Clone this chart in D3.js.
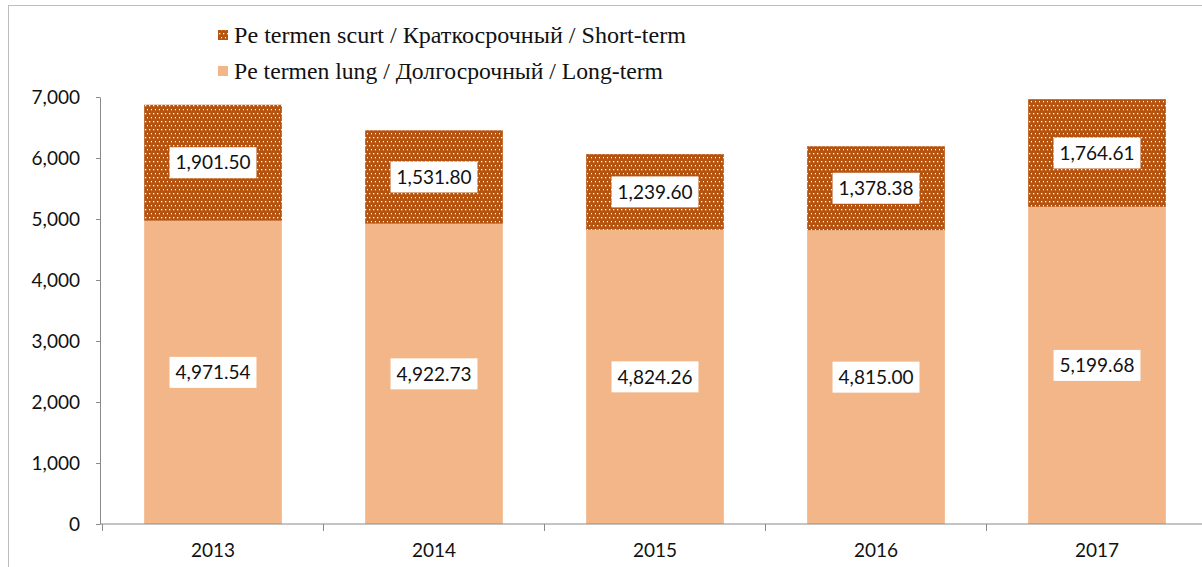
<!DOCTYPE html>
<html>
<head>
<meta charset="utf-8">
<title>Long-term / short-term</title>
<style>
  body { margin: 0; background: #fff; }
  svg { display: block; }
</style>
</head>
<body>
<script src="https://cdn.jsdelivr.net/npm/d3@7"></script>
<script>
var years = ["2013", "2014", "2015", "2016", "2017"];
var longTerm = [4971.54, 4922.73, 4824.26, 4815.00, 5199.68];
var shortTerm = [1901.50, 1531.80, 1239.60, 1378.38, 1764.61];
var yTicks = [0, 1000, 2000, 3000, 4000, 5000, 6000, 7000];
var legendLabels = [
    "Pe termen scurt / Краткосрочный / Short-term",
    "Pe termen lung / Долгосрочный / Long-term"
];

var W = 1202, H = 567;
var plotLeft = 100, plotBottom = 524, plotTop = 97;
var bandLeft = 102.5, bandRight = 1207.5;
var lightCol = "#f3b689", darkCol = "#b5530f", axisCol = "#8a8a8a";

var svg = d3.select("body").append("svg")
    .attr("width", W)
    .attr("height", H);

// dotted fill for short-term
var defs = svg.append("defs");
var pat = defs.append("pattern")
    .attr("id", "dots")
    .attr("patternUnits", "userSpaceOnUse")
    .attr("width", 4)
    .attr("height", 8);
pat.append("rect").attr("width", 4).attr("height", 8).attr("fill", darkCol);
pat.append("rect").attr("x", 1).attr("y", 1).attr("width", 1.3).attr("height", 1.3).attr("fill", "#fff");
pat.append("rect").attr("x", 3).attr("y", 5).attr("width", 1.3).attr("height", 1.3).attr("fill", "#fff");

// outer frame (mostly cropped)
svg.append("rect")
    .attr("x", 8.5).attr("y", 5.5)
    .attr("width", W + 10).attr("height", H + 10)
    .attr("fill", "none")
    .attr("stroke", "#bdbdbd");

var x = d3.scaleBand()
    .domain(years)
    .range([bandLeft, bandRight])
    .paddingInner(0.377)
    .paddingOuter(0.1885);

var y = d3.scaleLinear()
    .domain([0, 7000])
    .range([plotBottom, plotTop]);

var data = years.map(function(yr, i) {
    return { year: yr, lo: longTerm[i], hi: shortTerm[i] };
});

// bars
var bars = svg.append("g");
bars.selectAll(".long")
    .data(data).enter().append("rect")
    .attr("x", function(d) { return x(d.year); })
    .attr("width", x.bandwidth())
    .attr("y", function(d) { return y(d.lo); })
    .attr("height", function(d) { return y(0) - y(d.lo); })
    .attr("fill", lightCol);

bars.selectAll(".short")
    .data(data).enter().append("rect")
    .attr("x", function(d) { return x(d.year); })
    .attr("width", x.bandwidth())
    .attr("y", function(d) { return y(d.lo + d.hi); })
    .attr("height", function(d) { return y(d.lo) - y(d.lo + d.hi); })
    .attr("fill", "url(#dots)");

// y axis
var yAxis = svg.append("g")
    .attr("transform", "translate(" + plotLeft + ",0)")
    .call(d3.axisLeft(y).tickValues(yTicks).tickFormat(d3.format(","))
        .tickSizeInner(4).tickSizeOuter(0).tickPadding(16));
yAxis.select(".domain").attr("stroke", axisCol);
yAxis.selectAll(".tick line").attr("stroke", axisCol);
yAxis.selectAll("text")
    .attr("fill", "#111")
    .style("font-family", "Lato")
    .style("font-size", "19px");

// x axis
var xAxis = svg.append("g")
    .attr("transform", "translate(0," + plotBottom + ")")
    .call(d3.axisBottom(x).tickSize(0).tickPadding(20));
xAxis.select(".domain").remove();
xAxis.selectAll("text")
    .attr("fill", "#111")
    .style("font-family", "Lato")
    .style("font-size", "19px");
xAxis.append("line")
    .attr("x1", plotLeft).attr("x2", W)
    .attr("stroke", axisCol);
xAxis.selectAll(".sep")
    .data(d3.range(years.length + 1)).enter().append("line")
    .attr("x1", function(i) { return bandLeft + i * x.step(); })
    .attr("x2", function(i) { return bandLeft + i * x.step(); })
    .attr("y1", 0).attr("y2", 7)
    .attr("stroke", axisCol);

// value labels
var fmt = d3.format(",.2f");
function addLabel(cx, cy, txt) {
    var g = svg.append("g").attr("transform", "translate(" + cx + "," + cy + ")");
    var t = g.append("text")
        .attr("text-anchor", "middle")
        .attr("dy", "0.35em")
        .style("font-family", "Lato")
        .style("font-size", "19px")
        .attr("fill", "#111")
        .text(txt);
    var w = t.node().getComputedTextLength();
    g.insert("rect", "text")
        .attr("x", -w / 2 - 6).attr("y", -15.5)
        .attr("width", w + 12).attr("height", 31)
        .attr("fill", "#fff");
}
data.forEach(function(d) {
    var cx = x(d.year) + x.bandwidth() / 2;
    addLabel(cx, (y(d.lo) + y(d.lo + d.hi)) / 2, fmt(d.hi));
    addLabel(cx, (y(0) + y(d.lo)) / 2, fmt(d.lo));
});

// legend
var legend = svg.append("g").attr("transform", "translate(218,0)");
var legendFills = ["url(#dots)", lightCol];
var legendY = [35, 71];
var legendW = [452, 429];
legendLabels.forEach(function(lbl, i) {
    legend.append("rect")
        .attr("x", 0).attr("y", legendY[i] - 5)
        .attr("width", 10).attr("height", 10)
        .attr("fill", legendFills[i]);
    legend.append("text")
        .attr("x", 16).attr("y", legendY[i])
        .attr("dy", "0.35em")
        .attr("textLength", legendW[i])
        .attr("lengthAdjust", "spacingAndGlyphs")
        .style("font-family", "Liberation Serif")
        .style("font-size", "24px")
        .attr("fill", "#111")
        .text(lbl);
});
</script>
</body>
</html>
